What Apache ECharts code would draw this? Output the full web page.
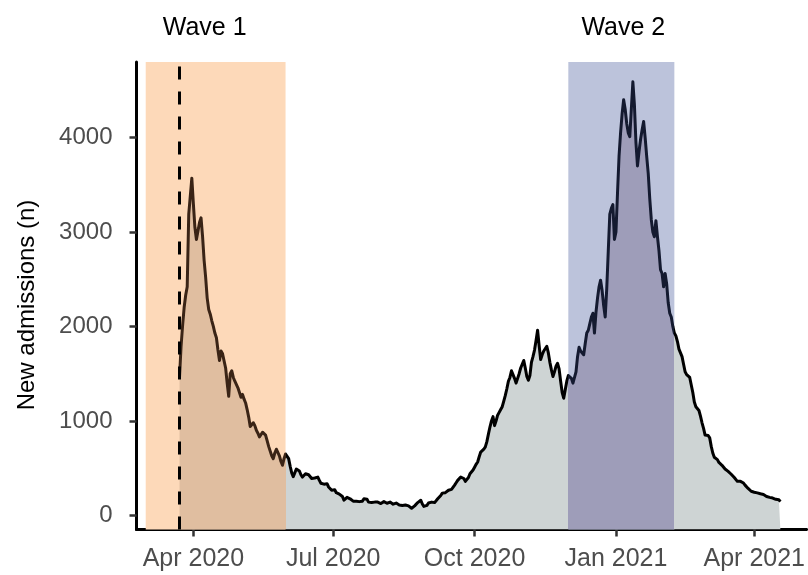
<!DOCTYPE html>
<html>
<head>
<meta charset="utf-8">
<script src="https://cdn.jsdelivr.net/npm/echarts@6/dist/echarts.min.js"></script>
<style>
  html, body { margin: 0; padding: 0; background: #fff; }
  #chart { width: 808px; height: 575px; }
</style>
</head>
<body>
<div id="chart"></div>
<script>
// Daily new hospital admissions, 23 Mar 2020 – 18 Apr 2021
const seriesStart = [2020, 2, 23];
const mar2020 = [1465, 1790, 2010, 2200, 2330, 2420, 3190, 3210, 3570];
const apr2020 = [3300, 3050, 2920, 2940, 3100, 3150, 2950, 2700, 2520, 2300,
                 2180, 2130, 2060, 2000, 1930, 1880, 1750, 1640, 1740, 1710,
                 1690, 1560, 1400, 1260, 1500, 1530, 1460, 1420, 1430, 1350];
const may2020 = [1300, 1250, 1280, 1230, 1190, 1120, 1040, 940, 960, 980,
                 950, 900, 870, 830, 850, 880, 870, 850, 790, 730,
                 680, 630, 600, 660, 700, 710, 630, 570, 530, 600, 650];
const jun2020 = [670, 600, 520, 450, 410, 450, 490, 510, 470, 430,
                 405, 420, 440, 460, 430, 410, 390, 400, 395, 400,
                 405, 370, 340, 320, 330, 345, 335, 300, 280, 265];
const jul2020 = [250, 270, 240, 235, 225, 210, 200, 160, 175, 190,
                 195, 175, 165, 150, 140, 150, 160, 145, 140, 150,
                 175, 195, 170, 140, 127, 135, 145, 140, 130, 140, 135];
const aug2020 = [125, 130, 145, 135, 128, 127, 140, 130, 118, 125,
                 130, 115, 110, 120, 105, 112, 110, 125, 100, 90,
                 75, 85, 100, 120, 135, 150, 160, 120, 95, 80, 105];
const sep2020 = [130, 135, 140, 128, 135, 150, 175, 195, 210, 235,
                 225, 240, 255, 265, 250, 275, 290, 320, 345, 370,
                 390, 405, 420, 390, 360, 355, 400, 440, 460, 480];
const oct2020 = [510, 540, 565, 620, 670, 690, 700, 725, 780, 860,
                 935, 1000, 1045, 950, 1000, 1060, 1090, 1120, 1150, 1210,
                 1270, 1340, 1420, 1460, 1530, 1540, 1450, 1400, 1380, 1500, 1560];
const nov2020 = [1600, 1640, 1560, 1470, 1430, 1480, 1620, 1680, 1750, 1850,
                 1960, 1800, 1650, 1700, 1740, 1760, 1790, 1720, 1620, 1540,
                 1470, 1520, 1580, 1610, 1550, 1420, 1300, 1240, 1330, 1420];
const dec2020 = [1480, 1500, 1450, 1400, 1380, 1520, 1680, 1780, 1740, 1720,
                 1700, 1820, 1930, 1960, 2030, 2100, 2140, 1930, 2150, 2300,
                 2420, 2490, 2380, 2220, 2100, 2400, 2800, 3190, 3250, 3290, 2920];
const jan2021 = [3000, 3410, 3800, 4050, 4250, 4400, 4300, 4150, 4050, 4010,
                 4300, 4590, 4350, 3950, 3700, 3850, 3980, 4080, 4170, 4000,
                 3800, 3620, 3350, 3130, 3000, 2950, 3120, 2950, 2800, 2600, 2560];
const feb2021 = [2420, 2560, 2450, 2250, 2140, 2100, 2000, 1930, 1900, 1840,
                 1760, 1720, 1680, 1600, 1520, 1490, 1470, 1460, 1380, 1300,
                 1200, 1150, 1130, 1110, 1050, 980, 920, 850];
const mar2021 = [830, 845, 820, 730, 660, 615, 600, 590, 560, 540,
                 530, 510, 490, 470, 465, 450, 435, 420, 400, 380,
                 360, 355, 360, 350, 342, 320, 300, 285, 265, 255, 250];
const apr2021 = [245, 240, 238, 232, 228, 222, 220, 210, 200, 195,
                 190, 188, 183, 178, 170, 160, 165, 145];

// Wave periods and lockdown date
const waveNames = ['Wave 1', 'Wave 2'];
const waveStarts = [[2020, 2, 1], [2020, 11, 1]];
const waveEnds = [[2020, 4, 31], [2021, 1, 8]];
const lockdownDate = [2020, 2, 23];

// Axis ticks
const xTickDates = [[2020, 3, 1], [2020, 6, 1], [2020, 9, 1], [2021, 0, 1], [2021, 3, 1]];
const xTickLabels = ['Apr 2020', 'Jul 2020', 'Oct 2020', 'Jan 2021', 'Apr 2021'];
const yTicks = [0, 1000, 2000, 3000, 4000];
const xRange = [[2020, 1, 24], [2021, 4, 5]];
const yRange = [-150, 4800];
const yTitle = 'New admissions (n)';

// Palette: band shading, area fill outside/inside each band, curve colour outside/inside each band
const bandColors = ['#fdd9b9', '#bcc3db'];
const areaColors = { base: '#ced4d4', wave1: '#e0bea0', wave2: '#9e9db9' };
const curveColors = { base: '#000000', wave1: '#3a2416', wave2: '#141a30' };

const ts = (d) => new Date(d[0], d[1], d[2]).getTime();

const dailyValues = [].concat(mar2020, apr2020, may2020, jun2020, jul2020, aug2020,
  sep2020, oct2020, nov2020, dec2020, jan2021, feb2021, mar2021, apr2021);
const points = dailyValues.map((v, i) => {
  const d = new Date(seriesStart[0], seriesStart[1], seriesStart[2] + i);
  return [d.getTime(), v];
});

const xTickTs = xTickDates.map(ts);
const w1s = ts(waveStarts[0]), w1e = ts(waveEnds[0]);
const w2s = ts(waveStarts[1]), w2e = ts(waveEnds[1]);
const FONT = 'Liberation Sans, Arial, sans-serif';

function bandPieces(c) {
  return [
    { lt: w1e, color: c.wave1 },
    { gte: w1e, lt: w2s, color: c.base },
    { gte: w2s, lt: w2e, color: c.wave2 },
    { gte: w2e, color: c.base }
  ];
}

const chart = echarts.init(document.getElementById('chart'), null, { renderer: 'canvas' });
chart.setOption({
  animation: false,
  backgroundColor: '#ffffff',
  grid: { left: 136.5, right: 0, top: 62, bottom: 45.5, containLabel: false },
  visualMap: [
    { type: 'piecewise', show: false, seriesIndex: 0, dimension: 0, pieces: bandPieces(areaColors) },
    { type: 'piecewise', show: false, seriesIndex: 1, dimension: 0, pieces: bandPieces(curveColors) }
  ],
  graphic: [{
    type: 'text',
    x: 27,
    y: 305,
    rotation: Math.PI / 2,
    style: {
      text: yTitle,
      fill: '#000',
      font: '24px ' + FONT,
      align: 'center',
      verticalAlign: 'middle'
    },
    silent: true
  }],
  xAxis: {
    type: 'value',
    min: ts(xRange[0]),
    max: ts(xRange[1]),
    splitLine: { show: false },
    axisLine: { show: true, onZero: false, lineStyle: { color: '#000', width: 3 } },
    axisTick: { show: true, length: 7, lineStyle: { color: '#333', width: 2.5 }, customValues: xTickTs },
    axisLabel: {
      customValues: xTickTs,
      color: '#4d4d4d',
      fontFamily: FONT,
      fontSize: 25,
      margin: 17,
      formatter: (v) => {
        const i = xTickTs.indexOf(v);
        return i >= 0 ? xTickLabels[i] : '';
      }
    }
  },
  yAxis: {
    type: 'value',
    min: yRange[0],
    max: yRange[1],
    splitLine: { show: false },
    axisLine: { show: true, onZero: false, lineStyle: { color: '#000', width: 3 } },
    axisTick: { show: true, length: 7, lineStyle: { color: '#333', width: 2.5 }, customValues: yTicks },
    axisLabel: {
      customValues: yTicks,
      color: '#4d4d4d',
      fontFamily: FONT,
      fontSize: 24,
      margin: 24,
      formatter: (v) => String(v)
    }
  },
  series: [
    {
      name: 'Admissions area',
      type: 'line',
      data: points,
      showSymbol: false,
      symbol: 'none',
      z: 2,
      lineStyle: { width: 0, opacity: 0 },
      areaStyle: { opacity: 1, origin: 'start' },
      markArea: {
        z: 1,
        silent: true,
        label: {
          show: true,
          position: 'top',
          distance: 21,
          color: '#000',
          fontFamily: FONT,
          fontSize: 25
        },
        data: [
          [
            { name: waveNames[0], xAxis: w1s,
              itemStyle: { color: bandColors[0] },
              label: { offset: [-11, 0] } },
            { xAxis: w1e }
          ],
          [
            { name: waveNames[1], xAxis: w2s,
              itemStyle: { color: bandColors[1] },
              label: { offset: [2, 0] } },
            { xAxis: w2e }
          ]
        ]
      }
    },
    {
      name: 'Admissions',
      type: 'line',
      data: points,
      showSymbol: false,
      symbol: 'none',
      z: 3,
      lineStyle: { width: 3, join: 'round' },
      markLine: {
        z: 5,
        silent: true,
        symbol: ['none', 'none'],
        label: { show: false },
        lineStyle: { color: '#000', width: 3, type: [13, 12] },
        data: [{ xAxis: ts(lockdownDate) }]
      }
    }
  ]
});
</script>
</body>
</html>
